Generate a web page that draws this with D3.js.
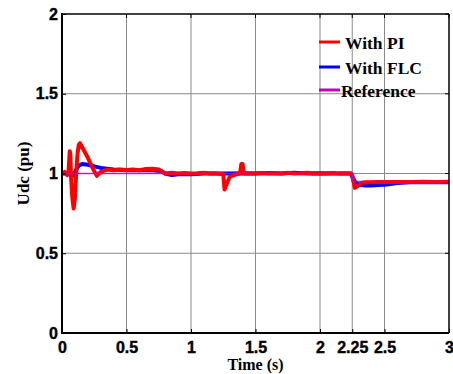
<!DOCTYPE html>
<html><head><meta charset="utf-8">
<script src="https://cdn.jsdelivr.net/npm/d3@7"></script>
<style>body{margin:0;background:#fff}svg{display:block}</style>
</head><body><svg id="c" width="453" height="374"></svg>
<script>
const xTicks = [0, 0.5, 1, 1.5, 2, 2.25, 2.5, 3];
const xTickLabels = ["0", "0.5", "1", "1.5", "2", "2.25", "2.5", "3"];
const yTicks = [0, 0.5, 1, 1.5, 2];
const yTickLabels = ["0", "0.5", "1", "1.5", "2"];

const piTime = [0,0.02,0.04,0.05,0.06,0.065,0.07,0.08,0.09,0.1,0.11,0.12,0.13,0.14,0.16,0.2,0.24,0.27,0.3,0.35,0.4,0.45,0.5,0.55,0.6,0.65,0.7,0.75,0.78,0.8,0.85,0.9,0.95,1.0,1.05,1.1,1.15,1.2,1.25,1.26,1.27,1.3,1.35,1.38,1.39,1.4,1.41,1.45,1.5,1.55,1.6,1.65,1.7,1.75,1.8,1.85,1.9,1.95,2.0,2.05,2.1,2.15,2.2,2.24,2.25,2.27,2.29,2.32,2.35,2.4,2.45,2.5,2.6,2.7,2.8,2.9,3.0];
const piValue = [1.0,1.01,0.99,1.0,1.14,1.12,0.98,0.85,0.78,0.84,1.0,1.12,1.18,1.19,1.16,1.10,1.03,0.985,1.01,1.025,1.02,1.025,1.022,1.025,1.02,1.028,1.03,1.025,1.01,1.0,1.005,1.0,1.003,1.0,1.002,1.005,1.0,1.0,0.995,0.90,0.92,0.98,0.995,1.0,1.06,1.06,1.0,1.0,1.0,1.003,1.0,1.002,1.0,1.004,1.0,1.002,1.005,1.0,1.002,1.0,1.003,1.0,1.002,1.0,0.99,0.91,0.92,0.94,0.945,0.945,0.947,0.946,0.947,0.946,0.948,0.947,0.948];

const flcTime = [0,0.05,0.08,0.1,0.13,0.16,0.2,0.25,0.3,0.35,0.4,0.5,0.6,0.7,0.77,0.8,0.85,0.9,1.0,1.1,1.2,1.3,1.4,1.5,1.6,1.7,1.8,1.9,2.0,2.1,2.2,2.24,2.25,2.27,2.3,2.35,2.4,2.45,2.5,2.6,2.7,2.8,2.9,3.0];
const flcValue = [1.0,1.0,0.985,1.01,1.05,1.06,1.055,1.045,1.035,1.03,1.025,1.02,1.02,1.02,1.015,1.0,0.99,0.995,0.995,1.0,1.0,1.0,1.002,1.0,1.003,1.0,1.004,1.0,1.002,1.0,1.0,1.0,0.98,0.95,0.93,0.925,0.925,0.928,0.93,0.94,0.945,0.946,0.945,0.945];

const refTime = [0, 2.25, 2.25, 3];
const refValue = [1, 1, 0.95, 0.95];

const legendLabels = ["With PI", "With FLC", "Reference"];
const colors = ["#ff0000", "#0000ff", "#c000c0"];

const svg = d3.select("#c");
const L = 62, R = 449, T = 14, B = 333;
const x = d3.scaleLinear().domain([0, 3]).range([L, R]);
const y = d3.scaleLinear().domain([0, 2]).range([B, T]);

// grid
const g = svg.append("g");
g.selectAll(".vx").data(xTicks.slice(1, -1)).enter().append("line")
  .attr("x1", d => x(d)).attr("x2", d => x(d)).attr("y1", T).attr("y2", B)
  .attr("stroke", "#8a8a8a").attr("stroke-width", 1);
g.selectAll(".hy").data(yTicks.slice(1, -1)).enter().append("line")
  .attr("x1", L).attr("x2", R).attr("y1", d => y(d)).attr("y2", d => y(d))
  .attr("stroke", "#8a8a8a").attr("stroke-width", 1);

// series
const line = d3.line().x(d => x(d[0])).y(d => y(d[1]));
const flc = flcTime.map((t, i) => [t, flcValue[i]]);
const pi = piTime.map((t, i) => [t, piValue[i]]);
const ref = refTime.map((t, i) => [t, refValue[i]]);
svg.append("path").attr("d", line(flc)).attr("fill", "none").attr("stroke", colors[1]).attr("stroke-width", 4).attr("stroke-linejoin", "round");
svg.append("path").attr("d", line(pi)).attr("fill", "none").attr("stroke", colors[0]).attr("stroke-width", 4).attr("stroke-linejoin", "round");
svg.append("path").attr("d", line(ref)).attr("fill", "none").attr("stroke", colors[2]).attr("stroke-width", 1.5).attr("opacity", 0.8);

// axes
const xAxis = d3.axisBottom(x).tickValues(xTicks).tickFormat((d, i) => xTickLabels[i]).tickSize(-4).tickPadding(9);
const yAxis = d3.axisLeft(y).tickValues(yTicks).tickFormat((d, i) => yTickLabels[i]).tickSize(-4).tickPadding(4);
const xa = svg.append("g").attr("transform", `translate(0,${B})`).call(xAxis);
const ya = svg.append("g").attr("transform", `translate(${L},0)`).call(yAxis);
[xa, ya].forEach(a => {
  a.select(".domain").remove();
  a.selectAll("line").attr("stroke", "#000");
  a.selectAll("text").attr("font-family", "Liberation Sans, Arial, sans-serif").attr("font-weight", "bold").attr("font-size", 16)
    .attr("fill", "#000").attr("stroke", "#000").attr("stroke-width", 0.4);
});
// top/right ticks
svg.append("g").selectAll("line").data(xTicks).enter().append("line")
  .attr("x1", d => x(d)).attr("x2", d => x(d)).attr("y1", T).attr("y2", T + 4).attr("stroke", "#000");
svg.append("g").selectAll("line").data(yTicks).enter().append("line")
  .attr("x1", R).attr("x2", R - 4).attr("y1", d => y(d)).attr("y2", d => y(d)).attr("stroke", "#000");

// border
svg.append("line").attr("x1", L).attr("x2", R).attr("y1", T).attr("y2", T).attr("stroke", "#000").attr("stroke-width", 1.5);
svg.append("line").attr("x1", R).attr("x2", R).attr("y1", T).attr("y2", B).attr("stroke", "#000").attr("stroke-width", 1.5);
svg.append("line").attr("x1", L).attr("x2", L).attr("y1", T - 1).attr("y2", B + 1).attr("stroke", "#000").attr("stroke-width", 2);
svg.append("line").attr("x1", L - 1).attr("x2", R).attr("y1", B).attr("y2", B).attr("stroke", "#000").attr("stroke-width", 2);

// axis labels
svg.append("text").attr("x", (L + R) / 2).attr("y", 370).attr("text-anchor", "middle")
  .attr("font-family", "Liberation Serif, Times New Roman, serif").attr("font-weight", "bold").attr("font-size", 16).text("Time (s)");
svg.append("text").attr("transform", `translate(29,${(T + B) / 2}) rotate(-90)`).attr("text-anchor", "middle")
  .attr("font-family", "Liberation Serif, Times New Roman, serif").attr("font-weight", "bold").attr("font-size", 17).text("Udc (pu)");

// legend
const ly = [42, 67, 90];
const lg = svg.append("g");
legendLabels.forEach((lab, i) => {
  lg.append("line").attr("x1", 319).attr("x2", 340).attr("y1", ly[i]).attr("y2", ly[i]).attr("stroke", colors[i]).attr("stroke-width", 3);
  lg.append("text").attr("x", i === 2 ? 341 : 345).attr("y", ly[i] + 7).attr("font-family", "Liberation Serif, Times New Roman, serif")
    .attr("font-weight", "bold").attr("font-size", 17.5).attr("fill", "#000").text(lab);
});
</script></body></html>
